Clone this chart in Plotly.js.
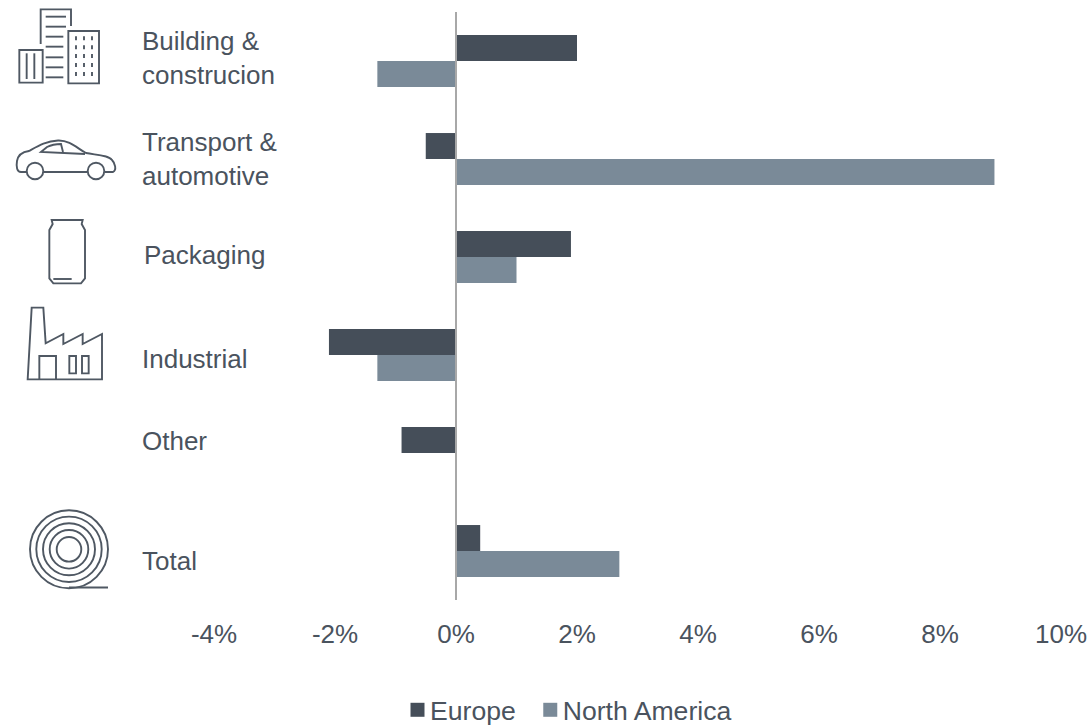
<!DOCTYPE html>
<html><head><meta charset="utf-8">
<script src="https://cdn.plot.ly/plotly-3.0.1.min.js"></script>
<style>html,body{margin:0;padding:0;background:#fff}</style></head>
<body><div id="chart" style="width:1092px;height:726px"></div>
<script>
var categories = ["Building & construcion","Transport & automotive","Packaging","Industrial","Other","Total"];
var categoryLabels = ["Building &<br>construcion","Transport &<br>automotive","Packaging","Industrial","Other","Total"];
var europe = [2.0,-0.5,1.9,-2.1,-0.9,0.4];
var northAmerica = [-1.3,8.9,1.0,-1.3,0,2.7];
var xTicks = [-4,-2,0,2,4,6,8,10];
var xTickLabels = ["-4%","-2%","0%","2%","4%","6%","8%","10%"];
var labelLeft = [140,140,141.5,140,140,140];
var labelShift = [3,0,2,-4,12,-10];

var W=1092,H=726,L=214,R=1061,T=12,B=600;
var TEXT="#4a535e", EU="#454e59", NA="#7a8a98", ICON="#4f5863";
function px(x){return (x-L)/(R-L);}
function py(y){return 1-(y-T)/(B-T);}
function pathOf(cmds){ // pixel-space icon drawing → paper coords
  return cmds.map(function(c){
    var out=c[0];
    for(var i=1;i<c.length;i+=2){out+=(i>1?" ":"")+px(c[i]).toFixed(5)+","+py(c[i+1]).toFixed(5);}
    return out;
  }).join(" ");
}
function z(xz,yz,oy){return [xz/3,yz/3+(oy||0)];}
function poly(pts,close,oy){
  var c=pts.map(function(p,i){var q=z(p[0],p[1],oy);return [i?"L":"M",q[0],q[1]];});
  var s=pathOf(c); return close? s+" Z":s;
}
function icon(path){return {type:"path",xref:"paper",yref:"paper",path:path,line:{color:ICON,width:1.9},fillcolor:"rgba(0,0,0,0)"};}
function circle(cx,cy,r){return {type:"circle",xref:"paper",yref:"paper",x0:px(cx-r),x1:px(cx+r),y0:py(cy+r),y1:py(cy-r),line:{color:ICON,width:1.9},fillcolor:"rgba(0,0,0,0)"};}

var shapes=[];
// axis line at zero, above the bars
shapes.push({type:"line",xref:"x",yref:"paper",x0:0,x1:0,y0:0,y1:1,layer:"above",line:{color:"#a8a8a8",width:2}});
// buildings
shapes.push(icon(poly([[122,132],[122,28],[213,28],[213,78]])));
[[137,198,50],[137,198,80],[137,190,110],[137,190,140],[137,190,172],[137,190,202],[137,190,232]].forEach(function(l){
  shapes.push(icon(poly([[l[0],l[2]],[l[1],l[2]]])));});
shapes.push(icon(poly([[205,93],[297,93],[297,250],[205,250]],true)));
shapes.push(icon(poly([[58,150],[128,150],[128,248],[58,248]],true)));
shapes.push(icon(poly([[80,160],[80,237]])));
shapes.push(icon(poly([[103,160],[103,237]])));
[228,252,276].forEach(function(x){[115,142,168,195,222].forEach(function(y){
  shapes.push(icon(poly([[x,y-6],[x,y+6]])));});});
// car
shapes.push(icon(pathOf([["M",27,172],["L",21,172],["C",17,172,16,167,17,161],["C",18,155,22,152,29,151],["C",38,146,46,141,58,140.5],["C",70,140,78,149,86,153],["C",96,155,108,155,112,160],["C",115,163,117,170,113,172],["L",105,172]])));
shapes.push(icon(pathOf([["M",43,172],["L",87,172]])));
shapes.push(circle(35,171,8.3));
shapes.push(circle(96,171,8.3));
shapes.push(icon(pathOf([["M",85,154],["L",41,152],["L",47,147],["C",51,145,56,144,61,144],["L",63,152]])));
// can
shapes.push(icon(poly([[155,60],[248,60],[245,72],[255,90],[255,235],[243,250],[160,250],[148,235],[148,90],[158,72]],true,200)));
shapes.push(icon(poly([[160,237],[215,237]],false,200)));
// factory
shapes.push(icon(poly([[83,538],[95,323],[130,323],[137,430],[190,402],[190,432],[248,402],[248,432],[306,402],[306,538]],true,200)));
shapes.push(icon(poly([[118,538],[118,468],[168,468],[168,538]],false,200)));
shapes.push(icon(poly([[208,468],[228,468],[228,520],[208,520]],true,200)));
shapes.push(icon(poly([[246,468],[266,468],[266,520],[246,520]],true,200)));
// coil
[12.3,19.3,26,32.7,39].forEach(function(r){shapes.push(circle(69,549.3,r));});
shapes.push(icon(pathOf([["M",69,587.5],["L",108,587.5]])));

var annotations=categories.map(function(c,i){return {
  x:px(labelLeft[i]),xref:"paper",xanchor:"left",
  y:c,yref:"y",yanchor:"middle",yshift:labelShift[i],
  text:categoryLabels[i],align:"left",showarrow:false,
  font:{family:"Liberation Sans, Arial, sans-serif",size:26,color:TEXT}
};});

var traces=[
 {type:"bar",orientation:"h",name:"Europe",y:categories,x:europe,marker:{color:EU},hoverinfo:"x+name"},
 {type:"bar",orientation:"h",name:"North America",y:categories,x:northAmerica,marker:{color:NA},hoverinfo:"x+name"}
];
var layout={
  width:W,height:H,margin:{l:L,r:W-R,t:T,b:H-B},
  paper_bgcolor:"#fff",plot_bgcolor:"#fff",
  barmode:"group",bargap:0.47,bargroupgap:0,
  font:{family:"Liberation Sans, Arial, sans-serif",size:26,color:TEXT},
  xaxis:{range:[-4,10],tickmode:"array",tickvals:xTicks,ticktext:xTickLabels,showgrid:false,
         zeroline:false,showline:false,ticks:"",ticklabelstandoff:16,
         tickfont:{size:26,color:TEXT}},
  yaxis:{autorange:"reversed",type:"category",showticklabels:false,showgrid:false,zeroline:false,showline:false,ticks:""},
  legend:{orientation:"h",xref:"container",yref:"container",x:390/W,xanchor:"left",y:(H-710)/H,yanchor:"middle",traceorder:"normal",
          font:{size:26.6,color:TEXT},bgcolor:"rgba(0,0,0,0)"},
  shapes:shapes,annotations:annotations
};
Plotly.newPlot("chart",traces,layout,{displayModeBar:false,responsive:false}).then(function(gd){
  // tighten native legend: bigger swatches closer to their text, as in the reference
  var box=gd.querySelector(".legend .scrollbox"); if(box) box.removeAttribute("clip-path");
  gd.querySelectorAll(".legend .legendsymbols").forEach(function(s){s.setAttribute("transform","translate(7.5,0)");});
  gd.querySelectorAll(".legend .legendbar .legendundefined, .legend .legendbar path, .legend .legendpoints path").forEach(function(p){
    p.setAttribute("d","M7,7H-7V-7H7Z");});
  var tr=gd.querySelectorAll(".legend .traces");
  if(tr[1]){var m=/translate\(([-\d.]+)[ ,]*([-\d.]+)?\)/.exec(tr[1].getAttribute("transform"));
    if(m) tr[1].setAttribute("transform","translate("+(parseFloat(m[1])+2)+","+(m[2]||0)+")");}
});
</script></body></html>
